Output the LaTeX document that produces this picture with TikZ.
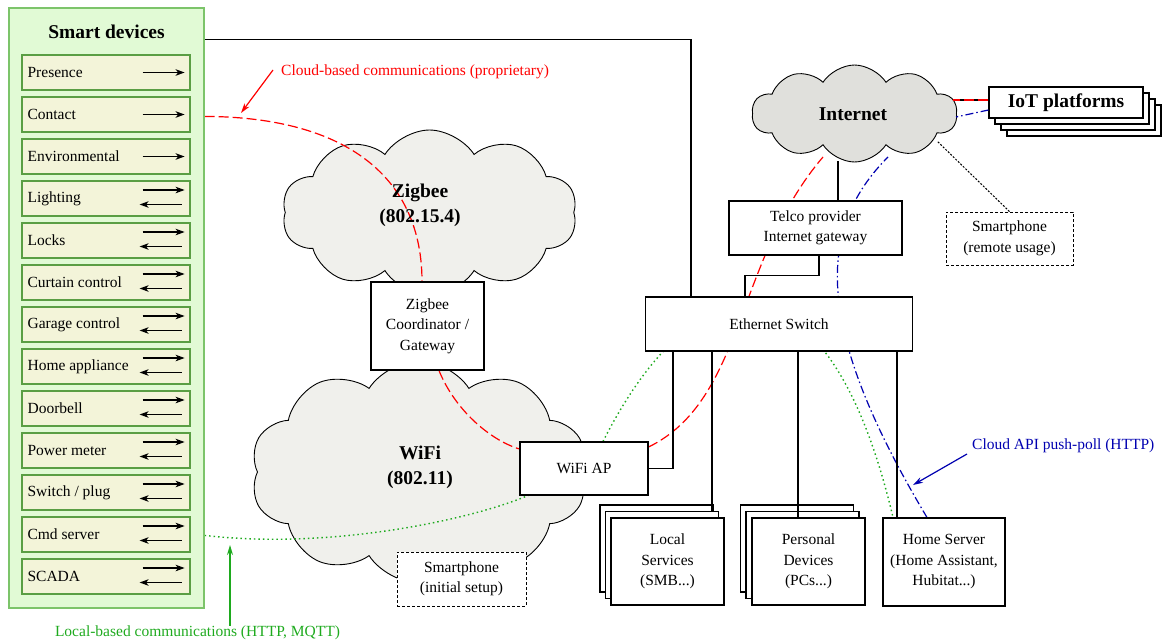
\documentclass[tikz,border=0pt]{standalone}
\usepackage{fontspec}
\setmainfont{Liberation Serif}
\usetikzlibrary{shapes.symbols, arrows.meta}
\definecolor{sdfill}{HTML}{E1FAD5}
\definecolor{sddraw}{HTML}{7CC46A}
\definecolor{itfill}{HTML}{F3F4D9}
\definecolor{itdraw}{HTML}{5A9E44}
\definecolor{cloudfill}{HTML}{F0F0EC}
\definecolor{inetfill}{HTML}{E0E0DC}
\definecolor{cred}{HTML}{FF0000}
\definecolor{cblue}{HTML}{0000B0}
\definecolor{cgreen}{HTML}{1EAA1E}
\newcommand{\fsn}{\fontsize{15.5}{20.5}\selectfont}
\newcommand{\fsb}{\fontsize{19.5}{25}\selectfont\bfseries}
\pgfdeclarelayer{bg}
\pgfdeclarelayer{mid}
\pgfsetlayers{bg,mid,main}
\begin{document}
\begin{tikzpicture}[x=1pt,y=-1pt,
  sdbox/.style={draw=sddraw, fill=sdfill, line width=1.2pt, inner sep=0pt},
  itembox/.style={draw=itdraw, fill=itfill, line width=1.2pt, inner sep=0pt, minimum width=168pt, minimum height=35pt},
  itemtext/.style={font=\fsn, inner sep=6pt},
  title/.style={font=\fsb, inner sep=0pt, align=center},
  lbl/.style={font=\fsn, inner sep=0pt, align=center},
  arr/.style={line width=1.3pt, -{Stealth[length=9pt,width=6.5pt,inset=2.5pt]}},
  box/.style={draw=black, fill=white, line width=1.1pt, font=\fsn, align=center, inner sep=0pt},
  dbox/.style={box, dash pattern=on 3pt off 2pt, line width=0.9pt},
  conn/.style={draw=black, line width=1.2pt},
  cloudy/.style={cloud, cloud puffs=10, cloud puff arc=115, draw=black, line width=0.9pt, inner sep=0pt, cloud ignores aspect},
  redl/.style={draw=cred, line width=1.2pt, dash pattern=on 10pt off 4pt},
  bluel/.style={draw=cblue, line width=1.2pt, dash pattern=on 8pt off 3pt on 1.5pt off 3pt},
  greenl/.style={draw=cgreen, line width=1.4pt, dash pattern=on 1.5pt off 3pt},
  annot/.style={line width=1.2pt, -{Stealth[length=10pt,width=6pt]}}
]
\useasboundingbox (0,0) rectangle (1166,643);

% Smart devices panel
\node[sdbox, minimum width=195pt, minimum height=600pt] (sd) at (106.5,308) {};
\node[title] (sdt) at (106.5,32) {Smart devices};
\foreach \t [count=\i] in {Presence,Contact,Environmental,Lighting,Locks,Curtain control,Garage control,Home appliance,Doorbell,Power meter,Switch / plug,Cmd server,SCADA} {
  \pgfmathsetmacro{\yc}{55+42*(\i-1)+17.5}
  \node[itembox] (d\i) at (106,\yc) {};
  \node[itemtext, anchor=west] (t\i) at (d\i.west) {\t};
  \ifnum\i<4
    \draw[arr] ([xshift=-48pt]d\i.east) -- ([xshift=-6pt]d\i.east);
  \else
    \draw[arr] ([xshift=-48pt,yshift=8.5pt]d\i.east) -- ([xshift=-6pt,yshift=8.5pt]d\i.east);
    \draw[arr] ([xshift=-9pt,yshift=-6pt]d\i.east) -- ([xshift=-51pt,yshift=-6pt]d\i.east);
  \fi
}

% Clouds (bottom layer)
\begin{pgfonlayer}{bg}
\node[cloudy, fill=cloudfill, minimum width=295pt, minimum height=165pt] (zcloud) at (429.5,212.5) {};
\node[cloudy, fill=cloudfill, minimum width=337pt, minimum height=222pt] (wcloud) at (419,472) {};
\node[cloudy, fill=inetfill, minimum width=205pt, minimum height=97pt] (inet) at (854.5,113.5) {};
\end{pgfonlayer}
\node[title] (zlbl) at (420,205) {Zigbee\\(802.15.4)};
\node[title] (wlbl) at (420,467) {WiFi\\(802.11)};
\node[title] (ilbl) at (853,114) {Internet};

% Coordinates for connector ends on the Internet cloud outline
\coordinate (inetR) at (823,157);
\coordinate (inetB) at (888,157);
\coordinate (inetE) at (953,100);
\coordinate (inetE2) at (956,117);
\coordinate (inetD) at (937,141);

% Boxes
\node[box, minimum width=113pt, minimum height=88pt] (zc) at (427.5,326) {Zigbee\\Coordinator /\\Gateway};
\node[box, minimum width=128pt, minimum height=53pt] (ap) at (584,468.5) {WiFi AP};
\node[box, minimum width=173pt, minimum height=54pt] (telco) at (815.5,228) {Telco provider\\Internet gateway};
\node[box, minimum width=267pt, minimum height=54pt] (sw) at (779,324) {Ethernet Switch};
\node[box, minimum width=122pt, minimum height=88pt] (hs) at (944,562) {Home Server\\(Home Assistant,\\Hubitat...)};
\node[dbox, minimum width=129pt, minimum height=54pt] (sp1) at (461.5,579) {Smartphone\\(initial setup)};
\node[dbox, minimum width=127pt, minimum height=53pt] (sp2) at (1009.5,238.5) {Smartphone\\(remote usage)};

% IoT platforms stack
\node[box, minimum width=154pt, minimum height=31pt] (iot3) at (1084,120.5) {};
\node[box, minimum width=154pt, minimum height=31pt] (iot2) at (1078,114.5) {};
\node[box, minimum width=154pt, minimum height=31pt] (iot1) at (1072,108.5) {};
\node[box, minimum width=154pt, minimum height=31pt, font=\fsb] (iot) at (1066,102.5) {IoT platforms};

% Local services stack
\node[box, minimum width=113pt, minimum height=87pt] (ls3) at (656.5,548.5) {};
\node[box, minimum width=113pt, minimum height=87pt] (ls2) at (662,555) {};
\node[box, minimum width=113pt, minimum height=87pt] (ls) at (667.5,561.5) {Local\\Services\\(SMB...)};
% Personal devices stack
\node[box, minimum width=113pt, minimum height=87pt] (pd3) at (797,548.5) {};
\node[box, minimum width=113pt, minimum height=87pt] (pd2) at (802.5,555) {};
\node[box, minimum width=113pt, minimum height=87pt] (pd) at (808.5,561.5) {Personal\\Devices\\(PCs...)};

% Colored communication curves (above clouds, below boxes)
\begin{pgfonlayer}{mid}
\draw[redl] ([yshift=-109pt]sd.north east) .. controls (350,117) and (422,180) .. ([xshift=-5.5pt]zc.north);
\draw[redl] ([xshift=11.5pt]zc.south) .. controls (455,410) and (490,440) .. ([yshift=19.5pt]ap.west);
\draw[redl] ([yshift=21.5pt]ap.east) .. controls (745,400) and (735,260) .. (inetR);
\draw[bluel] ([xshift=-17pt]hs.north) .. controls (815,330) and (815,230) .. (inetB);
\draw[greenl] ([yshift=-528pt]sd.north east) .. controls (330,550) and (470,520) .. ([xshift=-56pt]ap.south);
\draw[greenl] ([xshift=19pt]ap.north) .. controls (700,250) and (830,250) .. ([xshift=-51pt]hs.north);
\end{pgfonlayer}

% Black connectors
\draw[conn] ([yshift=-32pt]sd.north east) -| ([xshift=-88pt]sw.north);
\draw[conn] (ap.east) -| ([xshift=-106pt]sw.south);
\draw[conn] ([xshift=22.5pt]telco.north) -- ([xshift=22.5pt]telco.north |- 0,161);
\draw[conn] ([xshift=3.5pt]telco.south) -- ++(0,20) -| ([xshift=-34pt]sw.north);
\draw[conn] ([xshift=-67pt]sw.south) -- ([xshift=-67pt]sw.south |- ls2.north);
\draw[conn] ([xshift=19pt]sw.south) -- ([xshift=19pt]sw.south |- pd.north);
\draw[conn] ([xshift=118pt]sw.south) -- ([xshift=118pt]sw.south |- hs.north);
\draw[conn] ([yshift=2.5pt]iot.west) -- (inetE);
\draw[redl] ([yshift=2.5pt]iot.west) -- (inetE);
\draw[bluel] ([yshift=-7.5pt]iot.west) -- (inetE2);
\draw[line width=1pt, dash pattern=on 2pt off 1.5pt] (sp2.north) -- (inetD);

% Annotations
\node[lbl, text=cred, anchor=west] (redlbl) at (281,72) {Cloud-based communications (proprietary)};
\coordinate (redtip) at (241,113);
\draw[annot, cred] ([xshift=-8pt,yshift=2pt]redlbl.west) -- (redtip);
\node[lbl, text=cblue, anchor=west] (bluelbl) at (972,446) {Cloud API push-poll (HTTP)};
\coordinate (bluetip) at (913,485);
\draw[annot, cblue] ([xshift=-5pt,yshift=-8pt]bluelbl.west) -- (bluetip);
\node[lbl, text=cgreen] (greenlbl) at (197.5,633) {Local-based communications (HTTP, MQTT)};
\coordinate (greentip) at (230,545);
\draw[annot, cgreen] (greenlbl.north -| greentip) -- (greentip);
\end{tikzpicture}
\end{document}
